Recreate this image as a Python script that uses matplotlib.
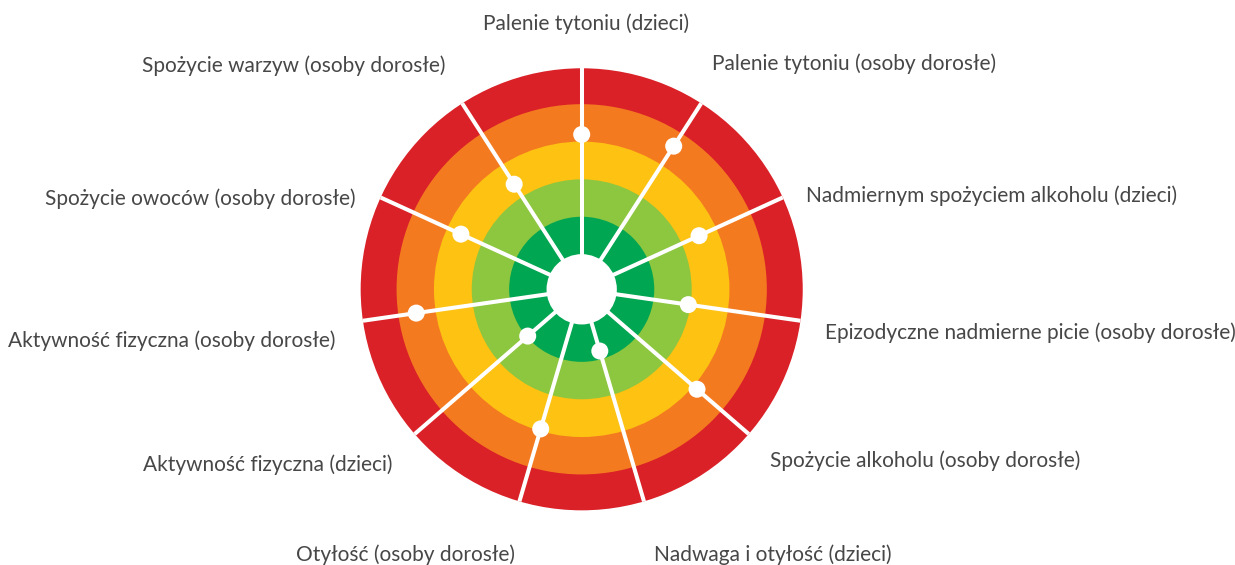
import numpy as np
import matplotlib
matplotlib.use("Agg")
import matplotlib.pyplot as plt
from matplotlib.patches import Circle

# categories clockwise from the top spoke
categories = [
    "Palenie tytoniu (dzieci)",
    "Palenie tytoniu (osoby dorosłe)",
    "Nadmiernym spożyciem alkoholu (dzieci)",
    "Epizodyczne nadmierne picie (osoby dorosłe)",
    "Spożycie alkoholu (osoby dorosłe)",
    "Nadwaga i otyłość (dzieci)",
    "Otyłość (osoby dorosłe)",
    "Aktywność fizyczna (dzieci)",
    "Aktywność fizyczna (osoby dorosłe)",
    "Spożycie owoców (osoby dorosłe)",
    "Spożycie warzyw (osoby dorosłe)",
]
# position of each dot along its spoke (ring units, 1 = dark green ... 5 = red)
values = [4.14, 4.55, 3.45, 2.88, 4.08, 1.72, 3.89, 1.91, 4.47, 3.55, 3.34]

# ring edges and colours, inside -> outside
ring_edges = [0.94, 1.94, 2.94, 3.95, 4.95, 5.91]
ring_colors = ["#00a651", "#8dc63f", "#fdc212", "#f47a20", "#da2128"]

# label anchor points in pixels (x from left, y from top), layout only
label_px = [(586, 24), (854, 64), (992, 196), (1030, 333), (925, 461),
            (773, 555), (405, 555), (268, 465), (172, 341), (200, 199),
            (294, 66)]

W, H = 1235, 565
cx, cy = 581.7, 289.3   # chart centre in pixels
unit = 37.4             # pixels per ring unit

fig = plt.figure(figsize=(W / 100, H / 100), dpi=100)
ax = fig.add_axes([0, 0, 1, 1])
ax.set_xlim(-cx / unit, (W - cx) / unit)
ax.set_ylim(-(H - cy) / unit, cy / unit)
ax.axis("off")

# rings, drawn from the outside in
for r, c in zip(ring_edges[:0:-1], ring_colors[::-1]):
    ax.add_patch(Circle((0, 0), r, facecolor=c, edgecolor="none", zorder=1))
ax.add_patch(Circle((0, 0), ring_edges[0], facecolor="white", edgecolor="none", zorder=3))

n = len(categories)
angles = np.pi / 2 - np.arange(n) * 2 * np.pi / n

# spokes
for a in angles:
    ax.plot([0, ring_edges[-1] * np.cos(a)], [0, ring_edges[-1] * np.sin(a)],
            color="white", lw=2.9, solid_capstyle="butt", zorder=2)

# dots
vals = np.array(values)
ax.scatter(vals * np.cos(angles), vals * np.sin(angles), s=150,
           color="white", edgecolors="none", zorder=4)

# labels
for name, (px, py) in zip(categories, label_px):
    ax.text((px - cx) / unit, (cy - py) / unit, name, ha="center", va="center",
            fontsize=15, family=["Lato", "DejaVu Sans"], fontweight="normal",
            color="#474747")

fig.savefig("out.png", dpi=100)
